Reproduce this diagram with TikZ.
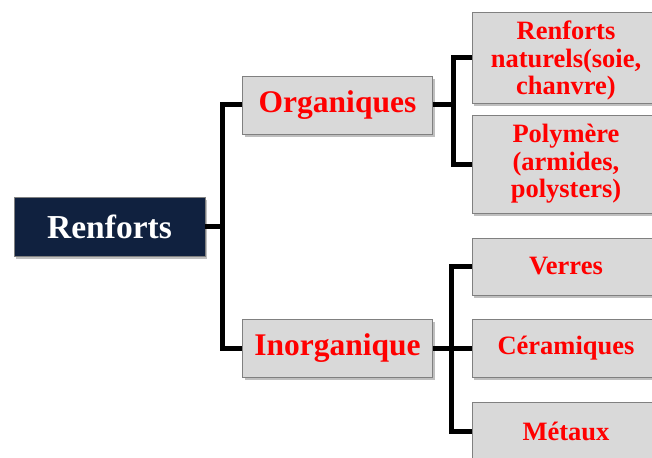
\documentclass[tikz,border=0pt]{standalone}
\usepackage{fontspec}
\setmainfont{Liberation Serif}
\usetikzlibrary{shadows}
\definecolor{navy}{HTML}{10213F}
\definecolor{boxgrey}{HTML}{D9D9D9}
\definecolor{edgegrey}{HTML}{808080}
\begin{document}
\begin{tikzpicture}[x=1pt,y=-1pt,
  conn/.style={line width=5pt,black},
  shade/.style={drop shadow={shadow xshift=2pt,shadow yshift=-3pt,opacity=.25,fill=black}},
  rootbox/.style={shade,fill=navy,draw=edgegrey,line width=.8pt,text=white,font=\bfseries\fontsize{33.5}{36}\selectfont,minimum width=191,minimum height=59,inner sep=0pt},
  midbox/.style={shade,fill=boxgrey,draw=edgegrey,line width=.8pt,text=red,font=\bfseries\fontsize{31.5}{34}\selectfont,minimum width=190,minimum height=58,inner sep=0pt},
  leaftext/.style={text=red,font=\bfseries\fontsize{26.5}{27.5}\selectfont,inner sep=0pt,align=center},
  leafbox/.style={shade,fill=boxgrey,draw=edgegrey,line width=.8pt,leaftext,minimum width=188}]
\useasboundingbox (0,0) rectangle (652,457);
\clip (0,0) rectangle (652,457);
% boxes
\node[rootbox] (ren) at (109.5,226.5) {Renforts};
\node[midbox] (org) at (337.5,105) {Organiques};
\node[midbox] (ino) at (337.5,348) {Inorganique};
\node[leafbox,minimum height=91] (nat) at (566,57.5) {};
\node[leaftext] (natlbl) at (566,60.5) {Renforts\\naturels(soie,\\chanvre)};
\node[leafbox,minimum height=98] (pol) at (566,164) {Polymère\\(armides,\\polysters)};
\node[leafbox,minimum height=57] (ver) at (566,266.5) {Verres};
\node[leafbox,minimum height=58] (cer) at (566,348) {Céramiques};
\node[leafbox,minimum height=58] (met) at (566,431) {Métaux};
% connectors
\coordinate (j0) at (222,226.5);
\coordinate (j1) at (453,105);
\coordinate (j2) at (451,348);
\draw[conn] (ren.east) -- (j0);
\draw[conn] (org.west) -| (j0) |- (ino.west);
\draw[conn] (org.east) -- (j1);
\draw[conn] (nat.west) -| (j1) |- (pol.west);
\draw[conn] (ino.east) -- (j2);
\draw[conn] (ver.west) -| (j2) |- (met.west);
\draw[conn] (j2) -- (cer.west);
\end{tikzpicture}
\end{document}
